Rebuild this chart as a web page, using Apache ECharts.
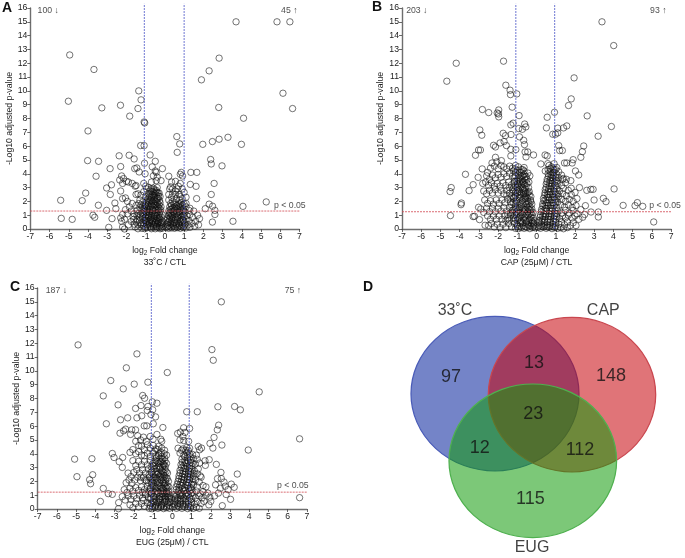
<!DOCTYPE html>
<html><head><meta charset="utf-8">
<script src="https://cdn.jsdelivr.net/npm/echarts@6/dist/echarts.min.js"></script>
<style>html,body{margin:0;padding:0;background:#fff}#c{width:685px;height:558px}</style></head>
<body><div id="c"></div>
<script>
// flat lists: x,y,x,y,...
const heatOuter=[3.7,15,5.83,15,6.5,15,-4.95,12.6,2.82,12.37,2.3,11.45,-3.69,11.55,1.9,10.8,-1.36,10,6.14,9.83,-1.24,9.35,-5.02,9.25,-3.28,8.77,-2.31,8.96,-1.4,8.72,2.8,8.8,6.64,8.72,-1.83,8.17,4.09,8.02,-1.08,7.75,-1.05,7.68,-4,7.1,.62,6.69,3.28,6.64,2.82,6.5,2.47,6.33,.77,6.16,1.97,6.13,3.98,6.13,-1.26,6.04,-1.08,6.04,-2.38,5.3,-1.86,5.34,-.77,5.36,-1.6,5.07,.64,5.55,2.38,5.03,-4.02,4.95,-3.45,4.9,-.5,4.9,2.41,4.71,2.97,4.57,-1.06,4.76,-.66,4.5,-2.3,4.52,-2.85,4.37,-.13,4.37,-1.46,4.42,-1.57,4.37,-.5,4.2,-1.34,4.13,1.35,4.1,1.66,4.1,.85,4.1,.8,3.96,.92,3.84,-3.58,3.82,.2,3.82,-2.25,3.84,-1.03,4,2.56,3.3,-2.78,3.2,-3.03,2.97,1.32,3.23,1.62,3.09,2.41,2.5,-4.12,2.6,-2.84,2.5,-4.3,2.05,-5.42,2.08,-3.46,1.72,5.27,1.96,4.06,1.64,1.65,2.2,2.3,1.8,2.48,1.65,2.1,1.47,-5.39,.77,-4.82,.7,-3.74,1,-3.65,.85,3.54,.56,2.47,.5,-2.92,.12,-2.1,0,-3.03,1.35,-2.6,1.88,-2.55,1.47,-2.75,.75,2.6,1.35,2.6,1.05];
const heatDense=[-2.35,3.55,-2.2,3.3,-1.9,3.4,-1.7,3.3,-1.5,3.15,-1.55,3.1,-1.1,3.3,-1,3.1,-.7,3.4,-.45,3.5,-.2,3.5,-.6,3.85,-.4,3.75,-.45,4.1,-2.15,3.65,-2,3.45,-2.3,2.75,-2.2,2.2,-2.05,2.25,-1.95,2,-1.5,2.5,-1.4,2.55,-1.25,2.45,-1.3,2.1,-1.1,2.7,-.95,2.9,-.85,3,-.75,2.75,-.6,2.95,-.5,2.7,-.4,3,-.3,2.6,-.65,2.5,-.55,2.3,-.45,2.45,-.35,2.2,-.25,2.35,-.8,2.3,-.9,2.1,-1,2.35,-1.15,1.95,-1.35,1.85,-1.5,1.7,-1.7,1.85,-1.85,1.6,-2.05,1.4,-2.2,1.05,-2.3,.8,-2.25,.55,-2.1,.7,-1.95,1.1,-1.75,1.3,-1.6,1.1,-1.45,1.35,-1.3,1.55,-1.15,1.65,-1,1.8,-.85,1.9,-.7,2.05,-.6,1.85,-.45,1.95,-.3,1.75,-.2,1.6,-.75,1.6,-.9,1.45,-1.05,1.3,-1.2,1.15,-.55,1.55,-.4,1.4,-.25,1.25,-.15,1.05,-.65,1.25,-.8,1.15,-.95,1.05,-.5,1.1,-.35,1,-1.75,.55,-1.6,.35,-1.45,.65,-1.3,.85,-1.15,.75,-1,.6,-.85,.85,-.7,.95,-.55,.75,-.4,.8,-.25,.7,-.12,.55,-1.55,.15,-1.4,.3,-1.25,.45,-1.1,.25,-.95,.3,-.8,.5,-.65,.6,-.5,.45,-.35,.5,-.2,.3,-.08,.2,-1.2,.05,-1.05,.02,-.9,.1,-.75,.2,-.6,.15,-.45,.2,-.3,.1,-.15,.05,-.7,.02,-.5,.02,-.25,.02,-1.65,.9,-1.9,.3,-2.2,.15,-1.4,.02,-.95,.75,-.6,.35,-.4,.6,-.3,.85,-.75,.7,-.85,1.25,-.65,1.45,-.5,1.75,-.35,1.6,-.25,1.9,-.7,1.8,-.95,1.6,-1.1,1.45,-1.25,1.75,-.55,2.1,-.4,2.25,-.75,2.15,-.6,2.65,-.85,2.55,-.45,2.8,.2,2.1,.3,1.85,.4,2,.55,1.9,.7,1.75,.85,1.9,1,1.8,.25,1.6,.35,1.45,.5,1.6,.65,1.45,.8,1.55,.95,1.4,1.1,1.6,.2,1.3,.3,1.15,.45,1.25,.6,1.1,.75,1.25,.9,1.1,1.05,1.2,1.25,1.35,.18,1,.28,.85,.4,.95,.55,.8,.7,.95,.85,.85,1,.9,1.15,.95,1.3,1.05,.12,.65,.22,.55,.35,.65,.5,.5,.65,.65,.8,.55,.95,.6,1.1,.7,1.25,.6,1.45,.85,.1,.35,.2,.25,.32,.35,.45,.2,.6,.3,.75,.25,.9,.3,1.05,.35,1.2,.3,1.4,.4,1.6,.55,.08,.1,.2,.05,.35,.08,.5,.05,.65,.1,.8,.05,.95,.1,1.1,.08,1.3,.12,1.55,.2,1.75,.3,1.8,.75,1.7,1,1.5,1.3,1.3,1.5,1.1,1.85,.2,2.5,.3,3.05,.25,2.9,.35,3.4,.55,3.45,.7,3.1,.8,3.3,.9,2.9,.4,2.9,.55,2.75,.65,2.9,.75,2.5,.8,2.35,1,2.65,.4,2.55,.55,2.5,.35,2.3,.6,2.2,.75,2.1,.9,2.2,1.1,2.3];
const heatCore=[-1.02,.12,-.88,.28,-.72,.1,-.58,.26,-.42,.1,-.28,.24,-.16,.14,-1.12,.42,-.98,.46,-.82,.38,-.68,.42,-.52,.34,-.38,.38,-.24,.44,-.14,.36,-1.08,.62,-.92,.58,-.78,.64,-.62,.54,-.48,.62,-.32,.58,-.18,.48,-1.18,.92,-1.02,.86,-.88,.96,-.72,.82,-.58,.9,-.44,.92,-.3,.78,-.2,.88,-1.12,1.08,-.98,1.2,-.82,1.02,-.68,1.12,-.54,1.02,-.42,1.18,-.28,1.08,-1.06,1.52,-.92,1.34,-.78,1.42,-.62,1.36,-.48,1.42,-.34,1.38,-.22,1.4,-1.02,1.68,-.88,1.72,-.68,1.68,-.56,1.72,-.42,1.68,-.3,1.5,-.95,1.98,-.8,2,-.65,1.98,-.5,2,-.38,1.88,-.28,2.05,-.88,2.22,-.7,2.32,-.58,2.42,-.42,2.12,-.32,2.38,-.78,2.45,-.68,2.72,-.52,2.55,-.36,2.62,-.72,2.9,-.55,2.85,-.42,2.65,-1.22,.3,-1.32,.6,-1.45,.98,-1.38,1.12,-1.62,.7,-1.5,.5,-1.28,1.05,-1.2,1.38,.14,.18,.28,.15,.42,.28,.56,.14,.72,.38,.86,.18,1,.22,.15,.46,.3,.48,.45,.42,.58,.44,.72,.16,.88,.48,1.02,.48,.15,.76,.24,.7,.38,.78,.52,.66,.66,.82,.78,.74,.92,.7,.22,.95,.34,1.02,.48,1.08,.62,.92,.78,1.05,.95,1,.24,1.16,.38,1.28,.52,1.38,.68,1.22,.84,1.36,.98,1.3,.28,1.42,.42,1.52,.58,1.52,.72,1.62,.88,1.62,.34,1.72,.48,1.78,.62,1.7,.78,1.82,.92,1.72];
const capOuter=[3.4,15,4.01,13.28,-4.18,12,-1.72,12.15,-4.67,10.7,1.95,10.94,-1.6,10.41,-1.38,10.05,-1.36,9.73,-1.03,9.78,1.8,9.42,1.66,8.94,-1.27,8.82,-2.82,8.65,-1.97,8.62,-2.49,8.43,-2.05,8.4,-1.98,8.33,-1.97,8.12,-.91,8.21,.55,8.09,.93,8.45,2.63,8.19,3.89,7.42,1.1,7.3,1.57,7.46,1.4,7.32,.51,7.32,-1.34,7.54,-1.22,7.66,-.62,7.6,-.56,7.39,-.93,7.27,-.74,7.22,-2.95,7.17,-2.85,6.79,-1.74,6.93,-1.62,6.76,-1.33,6.84,-.89,6.67,-.67,6.42,-.63,6.11,.84,6.86,.98,6.86,1.1,6.96,1.15,6.04,1.2,5.68,1.34,5.68,3.2,6.72,2.45,6.01,2.38,5.6,2.3,5.19,-1.57,6.04,-2.24,6.06,-2.14,5.94,-1.9,6.23,-1.69,6.33,-3.02,5.72,-2.92,5.72,-3.18,5.34,-1.34,5.77,-1.08,5.75,-.6,5.58,-.46,5.58,-.16,5.36,-.55,5.22,-1.34,5.29,.44,5.36,.55,5.29,-2.14,5.19,-1.83,4.95,-2.07,4.86,-2.32,4.78,.22,4.71,.58,4.73,.91,4.73,1.45,4.78,1.57,4.78,1.85,4.78,1.9,5.02,2.02,4.2,2.19,3.91,1.78,3.5,2.23,3,2.61,2.8,2.82,2.87,2.94,2.87,4.03,2.9,3.47,2.22,3.61,1.98,2.99,2.1,4.5,1.71,5.12,1.69,5.24,1.91,5.52,1.64,6.09,.51,3.21,1.23,3.21,.87,2.83,1.23,2.54,1.69,-3.7,3.96,-2.83,4.35,-3.04,3.74,-3.3,3.21,-3.51,2.78,-4.44,3,-4.5,2.71,-3.91,1.88,-3.93,1.76,-4.48,.97,-3.23,.92,-3.02,1.57,-2.97,.68,-2.68,.27];
const capDense=[-2.55,4.1,-2.4,4.4,-2.2,4.55,-2,4.35,-1.85,4.6,-1.7,4.5,-1.55,4.35,-1.4,4.55,-1.25,4.4,-1.1,4.6,-.95,4.5,-.8,4.3,-.65,4.45,-.45,4.05,-.35,3.85,-2.6,3.85,-2.45,3.6,-2.3,3.9,-2.15,3.7,-2,3.95,-1.85,3.75,-1.7,4,-1.55,3.8,-1.4,4.05,-1.25,3.85,-1.1,4.1,-.95,3.9,-.8,3.8,-.65,3.95,-.5,3.6,-.4,3.4,-2.8,3.3,-2.65,3.4,-2.5,3.15,-2.35,3.35,-2.2,3.1,-2.05,3.3,-1.9,3.1,-1.75,3.35,-1.6,3.15,-1.45,3.4,-1.3,3.2,-1.15,3.45,-1,3.25,-.85,3.45,-.7,3.3,-.55,3.1,-.42,3,-2.75,2.75,-2.6,2.55,-2.45,2.8,-2.3,2.6,-2.15,2.85,-2,2.6,-1.85,2.8,-1.7,2.55,-1.55,2.8,-1.4,2.6,-1.25,2.85,-1.1,2.65,-.95,2.85,-.8,2.6,-.65,2.8,-.5,2.55,-.38,2.7,-.3,2.35,-2.7,2.1,-2.55,1.85,-2.4,2.05,-2.25,1.8,-2.1,2.1,-1.95,1.85,-1.8,2.1,-1.65,1.9,-1.5,2.15,-1.35,1.95,-1.2,2.2,-1.05,2,-.9,2.25,-.75,2.05,-.6,2.25,-.45,2,-.32,2.1,-.25,1.8,-2.9,1.45,-2.75,1.2,-2.6,1.5,-2.45,1.25,-2.3,1.5,-2.15,1.25,-2,1.5,-1.85,1.3,-1.7,1.55,-1.55,1.3,-1.4,1.55,-1.25,1.35,-1.1,1.6,-.95,1.4,-.8,1.6,-.65,1.4,-.5,1.6,-.38,1.4,-.25,1.45,-.18,1.2,-2.55,.95,-2.4,.7,-2.25,.95,-2.1,.7,-1.95,.95,-1.8,.7,-1.65,.95,-1.5,.75,-1.35,1,-1.2,.8,-1.05,1,-.9,.85,-.75,1.05,-.6,.85,-.45,1,-.3,.85,-.18,.8,-.12,.6,-2.5,.25,-2.35,.4,-2.2,.15,-2.05,.35,-1.9,.1,-1.75,.35,-1.6,.1,-1.45,.4,-1.3,.15,-1.15,.4,-1,.2,-.85,.45,-.7,.25,-.55,.45,-.4,.25,-.25,.4,-.12,.3,-1.1,.05,-.95,.02,-.8,.1,-.65,.05,-.5,.1,-.35,.03,-.2,.1,-.08,.08,-1.2,.55,-1,.65,-.8,.6,-.6,.65,-.4,.6,-.25,.6,-1.25,1.15,-1.05,1.25,-.85,1.2,-.65,1.15,-.45,1.25,-.3,1.15,-1.3,1.75,-1.1,1.85,-.9,1.75,-.7,1.8,-.5,1.8,-.35,1.65,-1.3,2.4,-1.1,2.4,-.9,2.5,-.7,2.45,-.55,2.35,-1.2,3,-1,3,-.8,3.05,-.6,2.9,-1.15,3.7,-.95,3.6,-.75,3.6,-.6,3.55,-1.2,4.2,-1,4.25,-.8,4.1,-.65,4.2,-3.3,.9,.12,.5,.25,.35,.4,.5,.55,.3,.7,.5,.85,.35,1,.5,1.15,.35,1.3,.5,1.45,.3,1.6,.5,1.75,.25,1.9,.45,2.05,.25,.08,.12,.2,.05,.35,.15,.5,.05,.65,.12,.8,.03,.95,.1,1.1,.05,1.25,.1,1.4,.02,1.6,.1,.18,.85,.3,.7,.45,.9,.6,.7,.75,.9,.9,.75,1.05,.9,1.2,.75,1.35,.95,1.5,.8,1.65,1,1.85,.8,2,.95,2.2,.7,.25,1.25,.38,1.1,.5,1.3,.65,1.1,.8,1.3,.95,1.15,1.1,1.3,1.3,1.15,1.5,1.35,1.7,1.15,1.9,1.35,2.1,1.1,2.4,.85,.32,1.65,.45,1.5,.6,1.7,.75,1.5,.9,1.7,1.05,1.55,1.25,1.75,1.45,1.6,1.65,1.75,1.85,1.55,2.05,1.7,2.3,1.4,2.5,1.05,.38,2.05,.5,1.9,.65,2.1,.8,1.9,.95,2.1,1.1,1.95,1.3,2.15,1.5,2,1.7,2.15,1.9,2,2.1,2.2,.42,2.45,.55,2.3,.7,2.5,.85,2.3,1,2.5,1.15,2.35,1.35,2.55,1.55,2.4,1.8,2.5,2,2.65,.45,2.85,.6,2.7,.75,2.9,.9,2.75,1.05,2.9,1.2,2.75,1.4,2.95,1.65,2.8,1.8,2.95,.5,3.25,.65,3.1,.8,3.3,.95,3.15,1.1,3.3,1.3,3.15,1.5,3.35,1.35,3.6,.55,3.6,.7,3.5,.85,3.7,1,3.55,1.15,3.7,1.4,3.65,1.55,3.6,.6,4,.75,3.9,.9,4.1,1.05,3.95,1.3,3.9,.7,4.35,.85,4.4,1,4.3,1.15,4.15,.45,4.2,.65,4.6];
const capCore=[-1.02,.32,-.88,.2,-.72,.42,-.58,.18,-.46,.34,-.3,.22,-.16,.22,-1.12,.72,-.95,.78,-.82,.52,-.68,.75,-.52,.55,-.36,.72,-.22,.5,-.15,.42,-1.15,1.02,-.98,1.12,-.82,.95,-.68,1.28,-.55,1.02,-.38,1.1,-.24,1.02,-1.18,1.42,-1.02,1.5,-.88,1.52,-.72,1.48,-.58,1.42,-.44,1.48,-.32,1.38,-1.22,1.92,-1.02,2.1,-.85,1.95,-.68,2.15,-.56,1.98,-.4,1.85,-.3,1.98,-1.18,2.28,-1,2.62,-.84,2.3,-.68,2.6,-.6,2.55,-.48,2.22,-.38,2.45,-1.2,2.72,-1.02,2.78,-.88,2.7,-.72,2.95,-.58,2.7,-.44,2.65,-1.12,3.12,-.94,3.18,-.78,3.2,-.62,3.22,-.5,3.3,-1.18,3.35,-1.02,3.48,-.88,3.32,-.72,3.42,-.6,3.78,-1.1,3.85,-.9,3.72,-.72,3.85,-.54,3.8,-1.12,4.35,-.88,4.1,-.72,4.3,-1.35,1.2,-1.38,2.25,-1.42,.65,-1.42,3,-1.5,1.05,-1.55,2.45,-1.6,.62,.14,.25,.28,.2,.42,.22,.56,.16,.7,.24,.84,.18,.98,.22,.15,.62,.26,.55,.42,.68,.56,.52,.72,.7,.86,.55,1,.68,.2,1.02,.32,.92,.48,1.05,.62,.9,.78,1.08,.92,.95,1.05,1.1,.26,1.42,.38,1.32,.52,1.5,.68,1.3,.82,1.48,.96,1.35,.32,1.82,.44,1.72,.58,1.9,.72,1.72,.86,1.88,1,1.88,.36,2.22,.48,2.12,.62,2.3,.78,2.12,.92,2.3,1.05,2.2,.44,2.62,.56,2.5,.7,2.7,.82,2.52,.96,2.68,1.1,2.55,.5,3,.62,2.9,.78,3.12,.88,2.95,1.02,3.12,.54,3.42,.66,3.32,.8,3.5,.92,3.38,1.05,3.45,.62,3.8,.74,3.7,.86,3.88,.98,3.75,.7,4.15,.82,4.05,.92,4.25,.78,4.5,.6,4.3,1.05,4.45];
const eugOuter=[2.55,15,-4.9,11.88,2.06,11.54,2.13,10.77,-1.84,11.23,-2.39,10.22,-.26,9.88,-3.2,9.3,-1.98,9.04,-1.27,9.18,-2.55,8.7,4.52,8.48,-3.59,8.19,-1.54,8.22,-1.44,8.02,-1.04,7.76,-.8,7.66,-2.82,7.54,-1.63,7.49,-1.91,7.28,-1.27,7.42,-1.02,7.18,2.37,7.4,3.24,7.42,3.54,7.18,.75,7.04,1.3,7.04,-1.3,7.13,-1.11,6.84,-.87,6.67,-1.59,6.75,-1.84,6.6,-2.32,6.6,-2.69,6.46,-3.43,6.17,2.41,6.07,2.34,5.73,-1.46,6.02,-1.33,6.02,-.99,6.17,-.49,5.9,.59,5.88,.9,5.83,-2.43,5.78,-2.11,5.73,-1.91,5.73,-2.72,5.49,-2.53,5.66,-2.17,5.4,.28,5.47,.42,5.57,.66,5.54,2.17,5.18,6.62,5.08,1.96,4.75,2.11,4.41,2.58,4.63,3.95,4.27,1.35,4.53,1.52,4.41,1.42,4.29,-3.12,4.02,-3.03,3.73,-5.08,3.61,-4.18,3.64,-2.58,3.73,-2.76,3.42,-2.6,3.01,-4.96,2.34,-4.14,2.48,-4.3,2.12,-4.25,1.83,-3.59,1.49,-3.33,1.11,-3.12,1.06,-3.74,.55,-2.79,.46,-2.8,.02,6.62,.82,2.6,.24,3.03,.7,3.38,2.53,2.29,3.23,2.53,2.65,3.22,1.57,3.07,1.8,2.69,1.95,1.92,3.57,1.72,3.16,1.7,3.49,1.42,3.33];
const eugDense=[-1.8,5.3,-1.65,5,-1.5,5.2,-1.35,4.9,-1.15,5.25,-1,5.05,-.8,5.4,-.6,5.05,-.55,4.9,-1.9,4.9,-1.75,4.6,-1.6,4.55,-1.45,4.3,-1.3,4.65,-1.15,4.4,-1,4.6,-.85,4.35,-.7,4.55,-.55,4.4,-.4,4.25,-2.2,4.1,-2.05,4.3,-1.9,4,-1.75,4.15,-1.6,3.9,-1.45,3.85,-1.3,4.05,-1.15,3.8,-1,4.05,-.85,3.85,-.7,4,-.55,3.8,-.4,3.7,-.3,3.9,-2.05,3.5,-1.9,3.15,-1.75,3.45,-1.6,3.2,-1.45,3.45,-1.3,3.2,-1.15,3.5,-1,3.3,-.85,3.5,-.7,3.3,-.55,3.45,-.42,3.2,-.3,3.3,-2.3,2.6,-2.15,2.35,-2,2.65,-1.85,2.85,-1.7,2.6,-1.55,2.85,-1.4,2.6,-1.25,2.9,-1.1,2.65,-.95,2.9,-.8,2.7,-.65,2.9,-.5,2.7,-.38,2.85,-.25,2.6,-2.4,1.9,-2.25,2.1,-2.1,1.85,-1.95,2.1,-1.8,2.3,-1.65,2.05,-1.5,2.3,-1.35,2.05,-1.2,2.3,-1.05,2.1,-.9,2.3,-.75,2.1,-.6,2.3,-.45,2.1,-.32,2.25,-.2,2,-2.5,1.4,-2.35,1.2,-2.2,1.5,-2.05,1.3,-1.9,1.55,-1.75,1.35,-1.6,1.6,-1.45,1.4,-1.3,1.65,-1.15,1.45,-1,1.7,-.85,1.5,-.7,1.7,-.55,1.5,-.4,1.7,-.28,1.5,-.18,1.6,-2.6,.9,-2.45,.65,-2.3,.95,-2.15,.7,-2,.95,-1.85,.75,-1.7,1,-1.55,.8,-1.4,1.05,-1.25,.85,-1.1,1.1,-.95,.9,-.8,1.1,-.65,.9,-.5,1.1,-.35,.95,-.22,1.1,-.12,1,-2.2,.3,-2.05,.1,-1.9,.4,-1.75,.15,-1.6,.4,-1.45,.2,-1.3,.45,-1.15,.25,-1,.5,-.85,.3,-.7,.5,-.55,.3,-.4,.5,-.25,.35,-.1,.5,-1.2,.05,-1.05,.02,-.9,.1,-.75,.05,-.6,.12,-.45,.03,-.3,.1,-.15,.05,0,.15,-.05,.75,.05,.4,-1.1,.75,-.9,.7,-.7,.75,-.5,.7,-.35,.7,-.2,.75,-1.2,1.3,-1,1.35,-.8,1.3,-.6,1.3,-.45,1.35,-.3,1.25,-1.25,1.9,-1.05,1.95,-.85,1.9,-.65,1.9,-.5,1.9,-.35,1.9,-1.2,2.5,-1,2.5,-.8,2.5,-.6,2.55,-.45,2.45,-1.1,3.05,-.9,3.15,-.7,3.1,-.5,3.05,.1,.2,.22,.05,.35,.15,.5,.05,.65,.15,.8,.03,.95,.1,1.1,.05,1.25,.12,1.4,.05,.15,.55,.28,.4,.42,.55,.55,.35,.7,.5,.85,.35,1,.5,1.15,.35,1.3,.55,1.5,.4,1.65,.55,1.9,.3,2,.55,.15,.9,.3,.8,.45,.95,.6,.8,.75,.95,.9,.8,1.05,.95,1.2,.8,1.4,.95,1.55,.8,1.75,1,1.95,.85,2.2,.95,.3,1.25,.45,1.15,.6,1.3,.75,1.15,.9,1.3,1.05,1.2,1.25,1.3,1.45,1.1,1.6,1.25,1.85,1.15,2.4,1.15,2.8,1.05,.2,1.6,.35,1.55,.5,1.7,.65,1.55,.8,1.7,.95,1.55,1.1,1.75,1.3,1.6,1.6,1.7,1.75,1.6,2.25,1.75,2.5,1.5,2.75,1.65,2.9,1.4,.3,2,.45,1.95,.6,2.1,.75,1.95,.9,2.1,1.05,1.95,1.2,2.1,1.4,1.95,1.5,2.3,2.35,2.2,2.55,2.2,.35,2.4,.5,2.35,.65,2.5,.8,2.35,.95,2.5,1.1,2.4,1.3,2.55,1.45,2.4,.4,2.8,.55,2.75,.7,2.9,.85,2.75,1,2.9,1.15,2.75,1.35,2.9,.45,3.2,.6,3.15,.75,3.3,.9,3.15,1.05,3.3,1.2,3.25,.5,3.6,.65,3.5,.8,3.7,.95,3.55,1.1,3.65,1.3,3.6,.4,4.05,.6,3.9,.75,4.1,.9,4,1.05,3.95,1.25,3.9,.3,4.4,.55,4.35,.75,4.45,.9,4.4,.85,4.9,.6,4.95,.4,5,.55,5.25];
const eugCore=[-1.02,.18,-.88,.22,-.72,.15,-.58,.22,-.42,.16,-.28,.22,-.14,.25,-1.1,.4,-.95,.55,-.78,.42,-.62,.6,-.48,.38,-.32,.58,-.18,.5,-1.15,.72,-.98,.88,-.82,.62,-.65,.72,-.52,.9,-.4,.88,-.26,.9,-.15,.85,-1.08,1.15,-.9,1.22,-.72,1.18,-.58,1.12,-.44,1.2,-.3,1.12,-.2,1.3,-1.12,1.55,-.92,1.62,-.78,1.55,-.62,1.62,-.48,1.5,-.34,1.58,-.26,1.68,-1.08,1.82,-.95,2.05,-.76,1.82,-.58,2.1,-.42,1.82,-.36,2.1,-.26,2.2,-1.12,2.2,-.98,2.28,-.82,2.22,-.66,2.4,-.52,2.25,-.4,2.4,-1.05,2.75,-.88,2.62,-.72,2.55,-.56,2.78,-.44,2.62,-.32,2.7,-1,3.12,-.82,2.95,-.62,3.02,-.46,3.18,-.36,3.08,-.92,3.35,-.78,3.42,-.62,3.42,-.48,3.3,-.82,3.7,-.64,3.65,-.5,3.62,-.38,3.48,-.72,3.85,-.58,4.1,-.42,4,-.92,4.2,-.76,4.3,-1.38,1.15,-1.42,2.1,-1.5,.62,-1.55,1.2,-1.62,2.3,.14,.32,.28,.25,.42,.35,.56,.22,.7,.32,.84,.18,.98,.25,.15,.72,.28,.62,.42,.72,.55,.62,.68,.72,.82,.58,.98,.72,.1,1.05,.24,1.02,.38,1.08,.52,1,.68,1.08,.84,1.02,.98,1.12,.2,1.4,.35,1.38,.52,1.45,.68,1.35,.84,1.5,1,1.42,.26,1.8,.4,1.75,.55,1.88,.72,1.75,.86,1.88,1,1.78,.34,2.2,.48,2.15,.62,2.28,.78,2.15,.92,2.28,1.06,2.18,.4,2.6,.55,2.55,.7,2.68,.84,2.55,.96,2.68,1.08,2.58,.48,3,.62,2.95,.78,3.08,.9,2.95,1.02,3.12,.52,3.38,.68,3.35,.82,3.48,.96,3.38,.65,3.78,.8,3.9,.92,3.78,.7,4.25,.84,4.22,.48,4.25];

const panelNames=["33˚C / CTL","CAP (25μM) / CTL","EUG (25μM) / CTL"];
const downCounts=["100 ↓","203 ↓","187 ↓"];
const upCounts=["45 ↑","93 ↑","75 ↑"];
const foldGates=[[-1.07,1],[-1.08,.94],[-1.09,.88]];
const pGates=[1.3,1.25,1.22];
const vennSets=["33˚C","CAP","EUG"];
const vennCounts=[97,13,148,23,12,112,115];

const pairs=f=>{const r=[];for(let i=0;i<f.length;i+=2)r.push([f[i],f[i+1]]);return r;};
const panelPoints=[heatOuter.concat(heatDense,heatCore),capOuter.concat(capDense,capCore),eugOuter.concat(eugDense,eugCore)];
const frames=[[30.3,8],[402,8],[37.7,288]];
const annot=[{d:-6.07,u:6.47,p:6.5},{d:-6.23,u:6.33,p:6.68},{d:-6.03,u:6.27,p:6.27}];
const FONT='"Liberation Sans",Arial,sans-serif';
const grid=[],xAxis=[],yAxis=[],series=[];
const axisGray='#6e6e6e';
const FS=8.7;
frames.forEach((fr,i)=>{
  grid.push({left:fr[0],top:fr[1],width:269.2,height:221});
  xAxis.push({type:'value',gridIndex:i,min:-7,max:7,interval:1,splitLine:{show:false},
    axisLine:{onZero:false,lineStyle:{color:axisGray,width:1.4}},axisTick:{length:3,lineStyle:{color:'#444',width:.8}},
    axisLabel:{color:'#222',fontSize:FS,fontFamily:FONT,margin:3},
    name:'{a|log}{s|2}{a| Fold change}\n{a|'+panelNames[i]+'}',nameLocation:'middle',nameGap:15,
    nameTextStyle:{verticalAlign:'top',lineHeight:12.5,rich:{a:{fontSize:FS,color:'#222',fontFamily:FONT,lineHeight:12.5},s:{fontSize:6.5,color:'#222',fontFamily:FONT,verticalAlign:'bottom',padding:[5,0,0,0]}}}});
  yAxis.push({type:'value',gridIndex:i,min:0,max:16,interval:1,splitLine:{show:false},
    axisLine:{onZero:false,lineStyle:{color:axisGray,width:1.4}},axisTick:{length:3,lineStyle:{color:'#444',width:.8}},
    axisLabel:{color:'#222',fontSize:FS,fontFamily:FONT,margin:3},
    name:'-Log10 adjusted p-value',nameLocation:'middle',nameGap:12,
    nameTextStyle:{color:'#222',fontSize:FS,fontFamily:FONT}});
  series.push({type:'scatter',xAxisIndex:i,yAxisIndex:i,symbol:'circle',symbolSize:6.4,clip:false,silent:true,
    large:false,itemStyle:{color:'transparent',borderColor:'rgba(15,15,15,.85)',borderWidth:.85},data:pairs(panelPoints[i])});
  foldGates[i].forEach(g=>series.push({type:'line',xAxisIndex:i,yAxisIndex:i,symbol:'none',clip:false,silent:true,z:4,
    lineStyle:{color:'#4a55c8',width:.8,type:[2,1]},data:[[g,0],[g,16.3]]}));
  series.push({type:'line',xAxisIndex:i,yAxisIndex:i,symbol:'none',clip:false,silent:true,z:4,
    lineStyle:{color:'#d0464f',width:.8,type:[2,1]},data:[[-7,pGates[i]],[7,pGates[i]]]});
  const t=(x,y,s)=>({value:[x,y],label:{show:true,position:'inside',formatter:s,color:'#222',fontSize:FS,fontFamily:FONT}});
  series.push({type:'scatter',xAxisIndex:i,yAxisIndex:i,symbolSize:1,clip:false,silent:true,itemStyle:{color:'transparent'},z:6,
    data:[t(annot[i].d,15.8,downCounts[i]),t(annot[i].u,15.8,upCounts[i]),t(annot[i].p,1.7,'p < 0.05')]});
});
// Venn panel, in a hidden pixel-like frame
grid.push({left:355,top:275,width:330,height:283});
xAxis.push({type:'value',gridIndex:3,min:0,max:330,show:false});
yAxis.push({type:'value',gridIndex:3,min:0,max:283,inverse:true,show:false});
const vennShapes=[[140,118.7,168,154.6,'rgba(2,31,155,.55)','#4a5cb8'],[217,119.7,167.4,154.6,'rgba(198,2,10,.55)','#c9474f'],[177.8,185.8,167.6,153.6,'rgba(16,155,9,.55)','#4fb04f']];
vennShapes.forEach(v=>series.push({type:'scatter',xAxisIndex:3,yAxisIndex:3,silent:true,symbol:'circle',symbolSize:[v[2],v[3]],
  itemStyle:{color:v[4],borderColor:v[5],borderWidth:1.2,opacity:1},data:[[v[0],v[1]]]}));
const countSpots=[[96,101.7],[179,87.7],[256,100.7],[178.3,139],[124.7,173.3],[225,175],[175.3,224]];
const setSpots=[[100,36],[248.3,36],[177,272.3]];
const vt=(p,s,fs)=>({value:p,label:{show:true,position:'inside',formatter:String(s),color:'#111',fontSize:fs,fontFamily:FONT}});
series.push({type:'scatter',xAxisIndex:3,yAxisIndex:3,silent:true,symbolSize:1,itemStyle:{color:'transparent'},z:8,
  data:vennCounts.map((c,i)=>vt(countSpots[i],c,18)).concat(vennSets.map((c,i)=>vt(setSpots[i],c,16)))});
const letter=(s,l,t)=>({text:s,left:l,top:t,padding:0,textStyle:{fontSize:14,fontWeight:'bold',color:'#111',fontFamily:FONT}});
const chart=echarts.init(document.getElementById('c'),null,{renderer:'canvas'});
chart.setOption({animation:false,backgroundColor:'#fff',
  title:[letter('A',2,1),letter('B',372,0),letter('C',10,280),letter('D',363,280)],
  grid,xAxis,yAxis,series});
</script></body></html>
